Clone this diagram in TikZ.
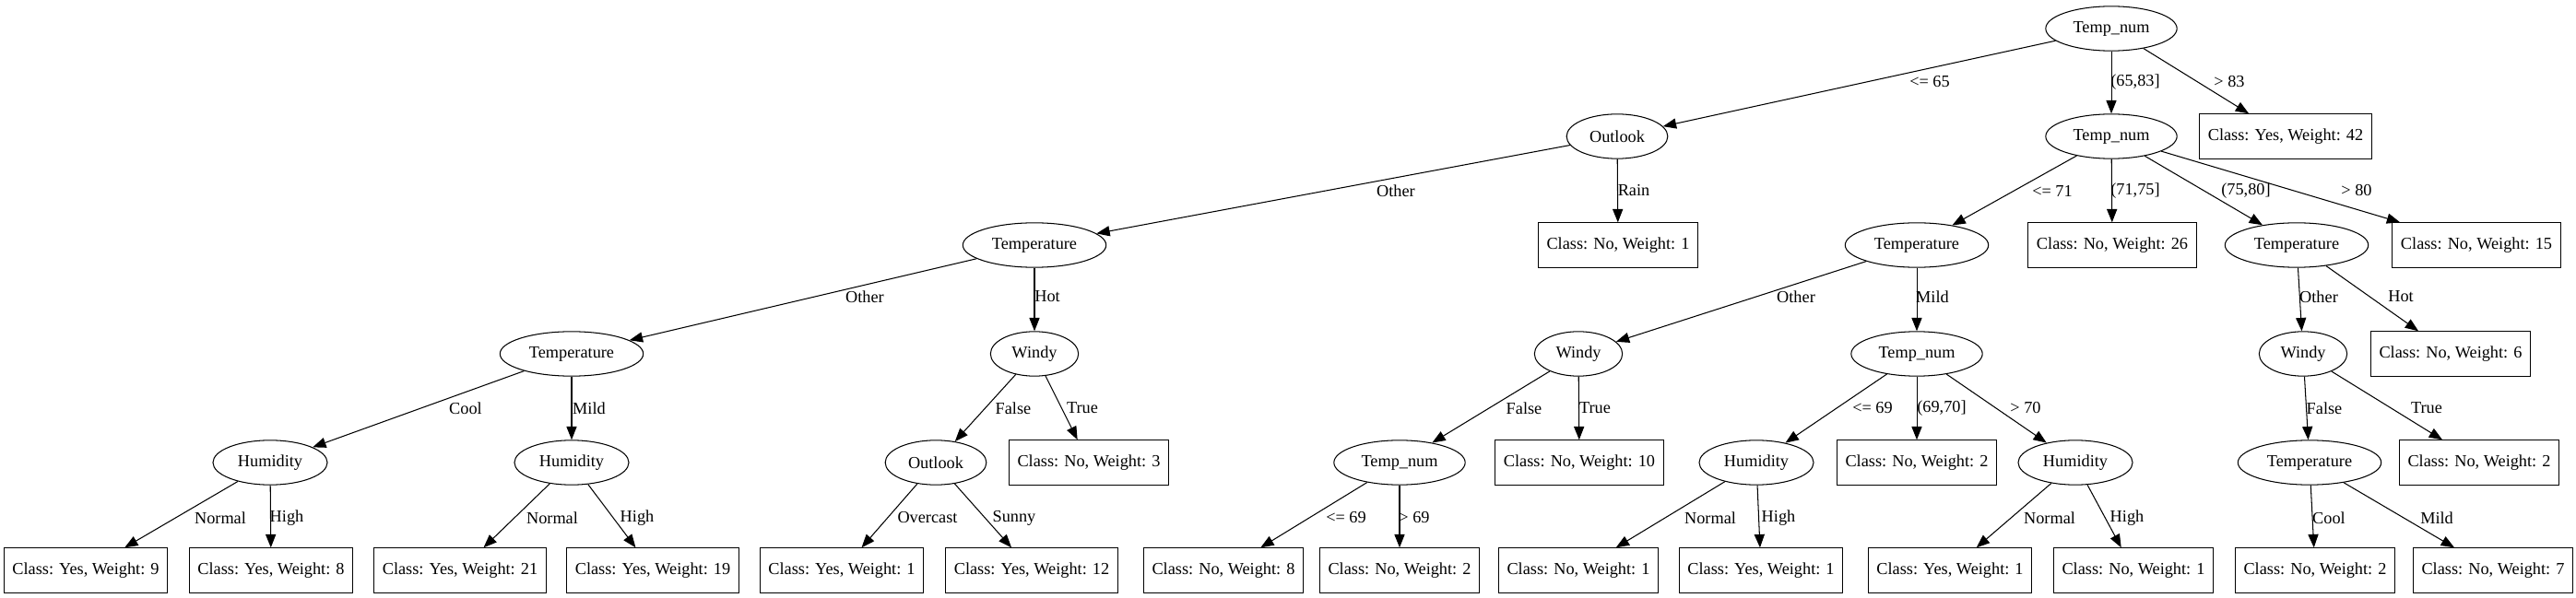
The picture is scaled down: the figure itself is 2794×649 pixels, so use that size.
\documentclass[tikz,border=0pt]{standalone}
\usepackage{fontspec}
\setmainfont{Liberation Serif}
\usetikzlibrary{shapes.geometric,arrows.meta}
\tikzset{
  ell/.style={draw, ellipse, line width=0.8pt, minimum height=37pt, inner sep=0pt},
  leaf/.style={draw, rectangle, line width=0.8pt, minimum height=37pt, inner xsep=7pt, inner ysep=0pt},
  edge/.style={line width=0.8pt, -{Triangle[length=11pt,width=8.5pt]}},
  lab/.style={inner sep=0pt},
  wTN/.style={minimum width=109pt},
  wOL/.style={minimum width=84pt},
  wTE/.style={minimum width=119pt},
  wHU/.style={minimum width=95pt},
  wWI/.style={minimum width=73pt},
}
\begin{document}
\begin{tikzpicture}[x=0.7657pt,y=-0.7657pt,font=\fontsize{14pt}{16pt}\selectfont]
\useasboundingbox (0,0) rectangle (2794,649);
% level 0
\node[ell,wTN] (n0) at (2290,31) {Temp\_num};
% level 1
\node[ell,wOL] (n1) at (1754,148) {Outlook};
\node[ell,wTN] (n2) at (2290,148) {Temp\_num};
\node[leaf] (l1) at (2479,148) {Class: Yes, Weight: 42};
% level 2
\node[ell,wTE] (n3) at (1122,266) {Temperature};
\node[leaf] (l2) at (1755,266) {Class: No, Weight: 1};
\node[ell,wTE] (n4) at (2079,266) {Temperature};
\node[leaf] (l3) at (2291,266) {Class: No, Weight: 26};
\node[ell,wTE] (n5) at (2491,266) {Temperature};
\node[leaf] (l4) at (2686,266) {Class: No, Weight: 15};
% level 3
\node[ell,wTE] (n6) at (620,384) {Temperature};
\node[ell,wWI] (n7) at (1122,384) {Windy};
\node[ell,wWI] (n8) at (1712,384) {Windy};
\node[ell,wTN] (n9) at (2079,384) {Temp\_num};
\node[ell,wWI] (n10) at (2498,384) {Windy};
\node[leaf] (l5) at (2658,384) {Class: No, Weight: 6};
% level 4
\node[ell,wHU] (n11) at (293,502) {Humidity};
\node[ell,wHU] (n12) at (620,502) {Humidity};
\node[ell,wOL] (n13) at (1015,502) {Outlook};
\node[leaf] (l6) at (1181,502) {Class: No, Weight: 3};
\node[ell,wTN] (n14) at (1518,502) {Temp\_num};
\node[leaf] (l7) at (1713,502) {Class: No, Weight: 10};
\node[ell,wHU] (n15) at (1905,502) {Humidity};
\node[leaf] (l8) at (2079,502) {Class: No, Weight: 2};
\node[ell,wHU] (n16) at (2251,502) {Humidity};
\node[ell,wTE] (n17) at (2505,502) {Temperature};
\node[leaf] (l9) at (2689,502) {Class: No, Weight: 2};
% level 5
\node[leaf] (m1) at (93,619) {Class: Yes, Weight: 9};
\node[leaf] (m2) at (294,619) {Class: Yes, Weight: 8};
\node[leaf] (m3) at (499,619) {Class: Yes, Weight: 21};
\node[leaf] (m4) at (708,619) {Class: Yes, Weight: 19};
\node[leaf] (m5) at (913,619) {Class: Yes, Weight: 1};
\node[leaf] (m6) at (1119,619) {Class: Yes, Weight: 12};
\node[leaf] (m7) at (1327,619) {Class: No, Weight: 8};
\node[leaf] (m8) at (1518,619) {Class: No, Weight: 2};
\node[leaf] (m9) at (1712,619) {Class: No, Weight: 1};
\node[leaf] (m10) at (1910,619) {Class: Yes, Weight: 1};
\node[leaf] (m11) at (2115,619) {Class: Yes, Weight: 1};
\node[leaf] (m12) at (2314,619) {Class: No, Weight: 1};
\node[leaf] (m13) at (2511,619) {Class: No, Weight: 2};
\node[leaf] (m14) at (2704,619) {Class: No, Weight: 7};
% edges
\draw[edge] (n0) -- (n1);
\draw[edge] (n0) -- (n2);
\draw[edge] (n0) -- (l1);
\draw[edge] (n1) -- (n3);
\draw[edge] (n1) -- (l2);
\draw[edge] (n2) -- (n4);
\draw[edge] (n2) -- (l3);
\draw[edge] (n2) -- (n5);
\draw[edge] (n2) -- (l4);
\draw[edge] (n3) -- (n6);
\draw[edge] (n3) -- (n7);
\draw[edge] (n4) -- (n8);
\draw[edge] (n4) -- (n9);
\draw[edge] (n5) -- (n10);
\draw[edge] (n5) -- (l5);
\draw[edge] (n6) -- (n11);
\draw[edge] (n6) -- (n12);
\draw[edge] (n7) -- (n13);
\draw[edge] (n7) -- (l6);
\draw[edge] (n8) -- (n14);
\draw[edge] (n8) -- (l7);
\draw[edge] (n9) -- (n15);
\draw[edge] (n9) -- (l8);
\draw[edge] (n9) -- (n16);
\draw[edge] (n10) -- (n17);
\draw[edge] (n10) -- (l9);
\draw[edge] (n11) -- (m1);
\draw[edge] (n11) -- (m2);
\draw[edge] (n12) -- (m3);
\draw[edge] (n12) -- (m4);
\draw[edge] (n13) -- (m5);
\draw[edge] (n13) -- (m6);
\draw[edge] (n14) -- (m7);
\draw[edge] (n14) -- (m8);
\draw[edge] (n15) -- (m9);
\draw[edge] (n15) -- (m10);
\draw[edge] (n16) -- (m11);
\draw[edge] (n16) -- (m12);
\draw[edge] (n17) -- (m13);
\draw[edge] (n17) -- (m14);
% edge labels
\node[lab] (e1) at (2093,89) {<= 65};
\node[lab] (e2) at (2316,89) {(65,83]};
\node[lab] (e3) at (2418,89) {> 83};
\node[lab] (e4) at (1514,207) {Other};
\node[lab] (e5) at (1772,207) {Rain};
\node[lab] (e6) at (2226,207) {<= 71};
\node[lab] (e7) at (2316,207) {(71,75]};
\node[lab] (e8) at (2436,207) {(75,80]};
\node[lab] (e9) at (2556,207) {> 80};
\node[lab] (e10) at (938,322) {Other};
\node[lab] (e11) at (1136,322) {Hot};
\node[lab] (e12) at (1948,322) {Other};
\node[lab] (e13) at (2096,322) {Mild};
\node[lab] (e14) at (2515,322) {Other};
\node[lab] (e15) at (2604,322) {Hot};
\node[lab] (e16) at (505,443) {Cool};
\node[lab] (e17) at (639,443) {Mild};
\node[lab] (e18) at (1099,443) {False};
\node[lab] (e19) at (1174,443) {True};
\node[lab] (e20) at (1653,443) {False};
\node[lab] (e21) at (1730,443) {True};
\node[lab] (e22) at (2031,443) {<= 69};
\node[lab] (e23) at (2106,443) {(69,70]};
\node[lab] (e24) at (2197,443) {> 70};
\node[lab] (e25) at (2521,443) {False};
\node[lab] (e26) at (2632,443) {True};
\node[lab] (e27) at (239,562) {Normal};
\node[lab] (e28) at (311,562) {High};
\node[lab] (e29) at (599,562) {Normal};
\node[lab] (e30) at (691,562) {High};
\node[lab] (e31) at (1006,562) {Overcast};
\node[lab] (e32) at (1100,562) {Sunny};
\node[lab] (e33) at (1460,562) {<= 69};
\node[lab] (e34) at (1534,562) {> 69};
\node[lab] (e35) at (1855,562) {Normal};
\node[lab] (e36) at (1929,562) {High};
\node[lab] (e37) at (2223,562) {Normal};
\node[lab] (e38) at (2307,562) {High};
\node[lab] (e39) at (2526,562) {Cool};
\node[lab] (e40) at (2643,562) {Mild};
\end{tikzpicture}
\end{document}
